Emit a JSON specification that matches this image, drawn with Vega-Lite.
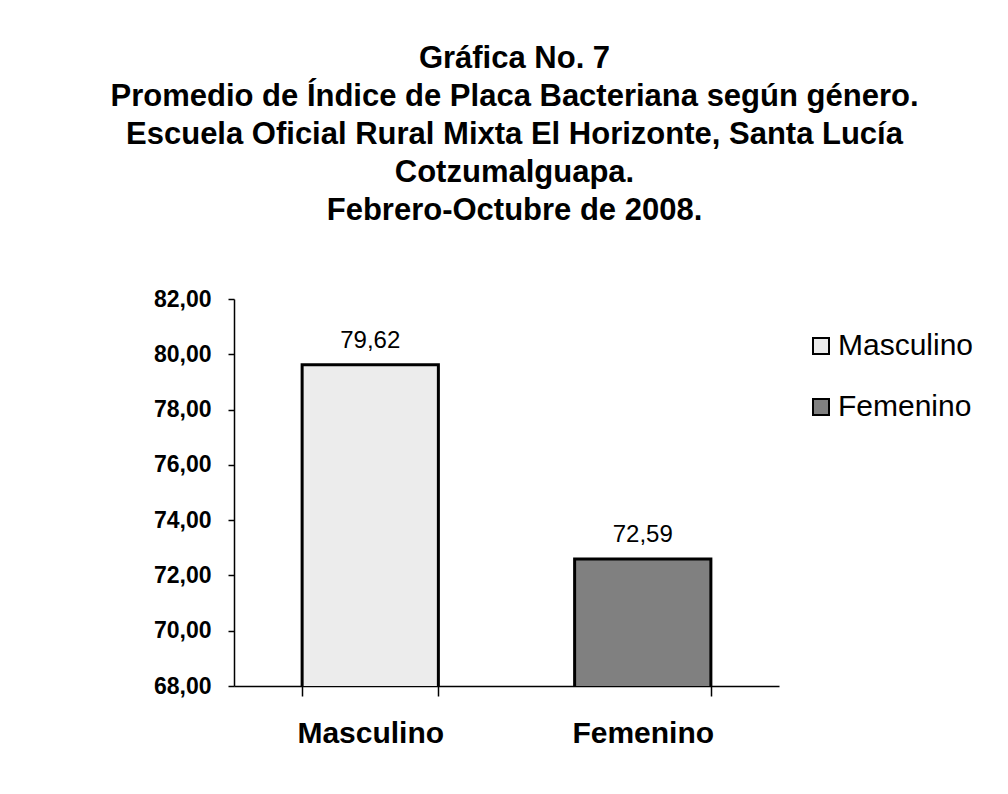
{
  "$schema": "https://vega.github.io/schema/vega-lite/v6.json",
  "autosize": {"type": "none"},
  "width": 545,
  "height": 387,
  "padding": {"left": 234, "top": 299, "right": 229, "bottom": 108},
  "background": "white",
  "config": {
    "locale": {"number": {"decimal": ",", "thousands": ".", "grouping": [3], "currency": ["", ""]}},
    "view": {"stroke": null},
    "font": "Liberation Sans"
  },
  "title": {
    "text": ["Gráfica No. 7", "Promedio de Índice de Placa Bacteriana según género.", "Escuela Oficial Rural Mixta El Horizonte, Santa Lucía", "Cotzumalguapa.", "Febrero-Octubre de 2008."],
    "font": "Liberation Sans",
    "fontSize": 31,
    "fontWeight": "bold",
    "lineHeight": 38,
    "color": "black",
    "anchor": "middle",
    "dx": 8,
    "offset": 61
  },
  "data": {"values": [
    {"genero": "Masculino", "indice": 79.62},
    {"genero": "Femenino", "indice": 72.59}
  ]},
  "encoding": {
    "x": {
      "field": "genero", "type": "nominal", "sort": ["Masculino", "Femenino"],
      "scale": {"paddingInner": 0.5, "paddingOuter": 0.25},
      "axis": {
        "title": null, "labelAngle": 0, "labelFont": "Liberation Sans", "labelFontSize": 30,
        "labelFontWeight": "bold", "labelColor": "black", "labelPadding": 22,
        "tickSize": 10, "tickBand": "extent", "tickColor": "black", "tickWidth": 1.5,
        "domainColor": "black", "domainWidth": 1.5
      }
    },
    "y": {
      "field": "indice", "type": "quantitative",
      "scale": {"domain": [68, 82], "zero": false, "nice": false},
      "axis": {
        "title": null, "values": [68, 70, 72, 74, 76, 78, 80, 82], "format": ".2f",
        "labelFont": "Liberation Sans", "labelFontSize": 23, "labelFontWeight": "bold",
        "labelColor": "black", "labelPadding": 17, "tickSize": 6, "tickColor": "black",
        "tickWidth": 1.5, "domainColor": "black", "domainWidth": 1.5, "grid": false
      }
    }
  },
  "layer": [
    {
      "mark": {"type": "bar", "stroke": "black", "strokeWidth": 3, "clip": true},
      "encoding": {
        "fill": {
          "field": "genero", "type": "nominal",
          "scale": {"domain": ["Masculino", "Femenino"], "range": ["#ececec", "#808080"]},
          "legend": {
            "title": null, "orient": "none", "legendX": 572, "legendY": 32,
            "symbolType": "square", "symbolSize": 256, "symbolStrokeColor": "black",
            "symbolStrokeWidth": 2, "labelFont": "Liberation Sans", "labelFontSize": 30,
            "labelColor": "black", "labelOffset": 2, "rowPadding": 31, "labelLimit": 300
          }
        }
      }
    },
    {
      "mark": {"type": "text", "baseline": "alphabetic", "dy": -17, "font": "Liberation Sans", "fontSize": 24, "color": "black"},
      "encoding": {
        "text": {"field": "indice", "type": "quantitative", "format": ".2f"}
      }
    }
  ]
}
